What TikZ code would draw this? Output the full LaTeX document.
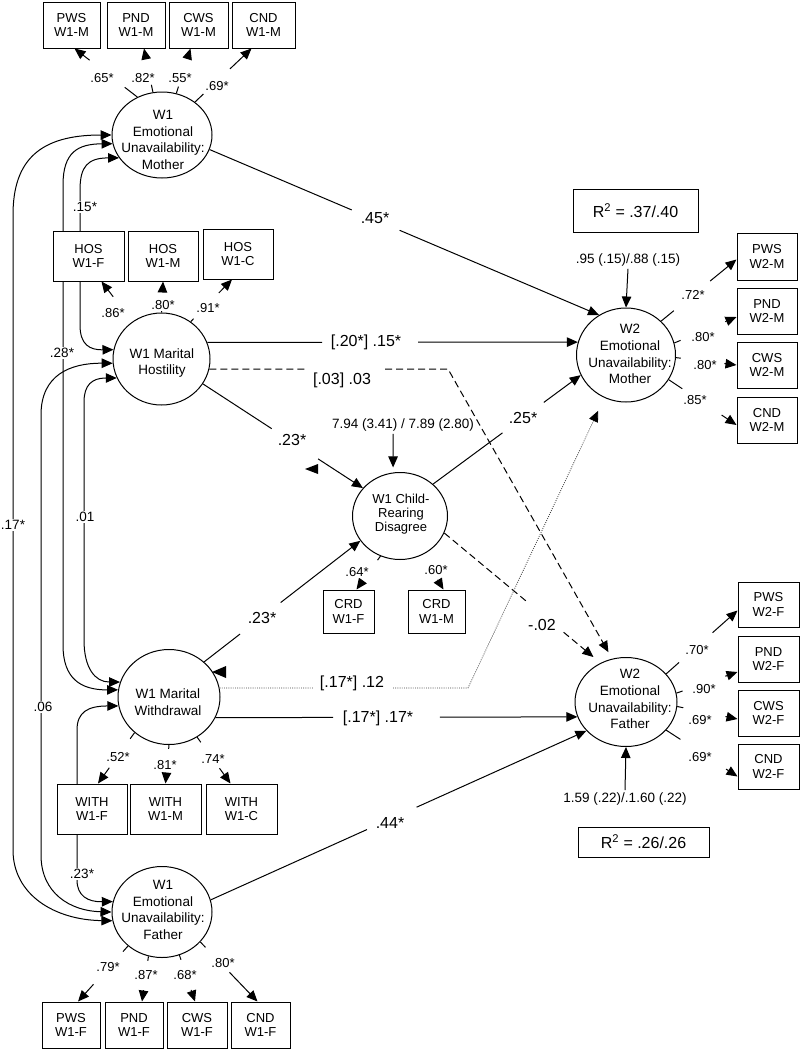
\documentclass[tikz,border=0pt]{standalone}
\usepackage{fontspec}
\setmainfont{Liberation Sans}
\usetikzlibrary{shapes.geometric,arrows.meta,calc,backgrounds}
\newcommand\gapln[5][]{%
  \draw[#1] (#2) -- ($(#2)!#4!(#3)$);
  \draw[#1,arr] ($(#2)!#5!(#3)$) -- (#3);}
\begin{document}
\begin{tikzpicture}[x=1pt,y=-1pt,line width=1pt,
  arr/.style={-{Triangle[length=11pt,width=9.5pt]}},
  dotarr/.style={-{Triangle[length=11pt,width=9.5pt,black]}},
  arrb/.style={{Triangle[length=11pt,width=9.5pt]}-{Triangle[length=11pt,width=9.5pt]}},
  lat/.style={ellipse,draw,fill=white,inner sep=0pt},
  ltxt/.style={inner sep=0pt,align=center,font=\fontsize{13.5}{16.8}\selectfont},
  obs/.style={rectangle,draw,fill=white,inner sep=0pt,align=center,font=\fontsize{13}{14.5}\selectfont},
  ld/.style={fill=white,inner sep=1.2pt,font=\fontsize{13}{15}\selectfont},
  pl/.style={fill=white,inner sep=1.5pt,font=\fontsize{16}{18}\selectfont},
  cl/.style={fill=white,inner sep=1.5pt,font=\fontsize{13.5}{15}\selectfont},
  dtxt/.style={inner sep=2pt,font=\fontsize{13.5}{15}\selectfont},
  dsh/.style={dash pattern=on 7pt off 4pt},
  dot/.style={line width=.8pt,black!75,dash pattern=on .9pt off 1.3pt}]
\useasboundingbox (0,0) rectangle (801,1050);

% latent variables
\node[lat,minimum width=100pt,minimum height=86pt] (mw) at (162,135) {};
\node[lat,minimum width=97pt,minimum height=92pt] (hos) at (161.5,359) {};
\node[lat,minimum width=102pt,minimum height=95pt] (wd) at (169,697) {};
\node[lat,minimum width=100pt,minimum height=91pt] (fw) at (162,912) {};
\node[lat,minimum width=95pt,minimum height=87pt] (crd) at (400,516) {};
\node[lat,minimum width=99pt,minimum height=94pt] (w2m) at (626,355) {};
\node[lat,minimum width=102pt,minimum height=89pt] (w2f) at (626,702) {};

\node[ltxt] (mwt) at (163,140) {W1\\Emotional\\Unavailability:\\Mother};
\node[ltxt] (host) at (162,363) {W1 Marital\\Hostility};
\node[ltxt] (wdt) at (168,702) {W1 Marital\\Withdrawal};
\node[ltxt] (fwt) at (163,910) {W1\\Emotional\\Unavailability:\\Father};
\node[ltxt,font=\fontsize{13}{14.2}\selectfont] (crdt) at (401,514) {W1 Child-\\Rearing\\Disagree};
\node[ltxt] (w2mt) at (630,354) {W2\\Emotional\\Unavailability:\\Mother};
\node[ltxt] (w2ft) at (630,699) {W2\\Emotional\\Unavailability:\\Father};

% observed indicators
\node[obs,minimum width=57pt,minimum height=46pt] (pwsm) at (71.5,25) {PWS\\W1-M};
\node[obs,minimum width=58pt,minimum height=46pt] (pndm) at (136,25) {PND\\W1-M};
\node[obs,minimum width=59pt,minimum height=46pt] (cwsm) at (198.5,25) {CWS\\W1-M};
\node[obs,minimum width=63pt,minimum height=46pt] (cndm) at (263.5,25) {CND\\W1-M};

\node[obs,minimum width=71pt,minimum height=50pt] (hosf) at (88.5,256) {HOS\\W1-F};
\node[obs,minimum width=70pt,minimum height=50pt] (hosm) at (163,256) {HOS\\W1-M};
\node[obs,minimum width=70pt,minimum height=50pt] (hosc) at (238,254) {HOS\\W1-C};

\node[obs,minimum width=70pt,minimum height=50pt] (withf) at (92,809) {WITH\\W1-F};
\node[obs,minimum width=71pt,minimum height=50pt] (withm) at (165.5,809) {WITH\\W1-M};
\node[obs,minimum width=71pt,minimum height=50pt] (withc) at (241.5,809) {WITH\\W1-C};

\node[obs,minimum width=58pt,minimum height=46pt] (pwsf) at (71,1025) {PWS\\W1-F};
\node[obs,minimum width=58pt,minimum height=46pt] (pndf) at (134,1025) {PND\\W1-F};
\node[obs,minimum width=60pt,minimum height=46pt] (cwsf) at (197,1025) {CWS\\W1-F};
\node[obs,minimum width=59pt,minimum height=46pt] (cndf) at (260.5,1025) {CND\\W1-F};

\node[obs,minimum width=51pt,minimum height=43pt] (crdf) at (348.5,611.5) {CRD\\W1-F};
\node[obs,minimum width=57pt,minimum height=43pt] (crdm) at (436.5,611.5) {CRD\\W1-M};

\node[obs,minimum width=60pt,minimum height=47pt] (pws2m) at (767,256.5) {PWS\\W2-M};
\node[obs,minimum width=60pt,minimum height=46pt] (pnd2m) at (767,311) {PND\\W2-M};
\node[obs,minimum width=60pt,minimum height=46pt] (cws2m) at (767,365) {CWS\\W2-M};
\node[obs,minimum width=60pt,minimum height=46pt] (cnd2m) at (767,420) {CND\\W2-M};

\node[obs,minimum width=61pt,minimum height=45pt] (pws2f) at (768.5,604.5) {PWS\\W2-F};
\node[obs,minimum width=61pt,minimum height=46pt] (pnd2f) at (768.5,659) {PND\\W2-F};
\node[obs,minimum width=61pt,minimum height=46pt] (cws2f) at (768.5,713) {CWS\\W2-F};
\node[obs,minimum width=61pt,minimum height=45pt] (cnd2f) at (768.5,766.5) {CND\\W2-F};

\node[obs,font=\fontsize{16}{18}\selectfont,minimum width=125pt,minimum height=43pt] (r2m) at (635.5,210.5) {R\textsuperscript{2} = .37/.40};
\node[obs,font=\fontsize{16}{18}\selectfont,minimum width=131pt,minimum height=30pt] (r2f) at (643.5,842) {R\textsuperscript{2} = .26/.26};

% disturbance texts
\node[dtxt] (d2m) at (628,260) {.95 (.15)/.88 (.15)};
\node[dtxt] (d2f) at (625,799) {1.59 (.22)/.1.60 (.22)};
\node[dtxt] (dcrd) at (403,425) {7.94 (3.41) / 7.89 (2.80)};

\coordinate (da) at (305,369);
\coordinate (db) at (385,369);
\coordinate (dc) at (448,369);
\coordinate (ta) at (313,688);
\coordinate (tb) at (393,688);
\coordinate (tc) at (468,688);

\begin{pgfonlayer}{background}
\begin{scope}[line width=1pt,black]
% correlations
\draw[arrb] (mw.180) .. controls (40,135) and (13,160) .. (13,215) -- (13,850) .. controls (13,895) and (55,920) .. (fw.190);
\draw[arrb] (mw.190) .. controls (78,144) and (63,152) .. (63,185) -- (63,645) .. controls (63,678) and (80,690) .. (wd.172);
\draw[arrb] (mw.208) .. controls (88,158) and (80,166) .. (80,190) -- (80,325) .. controls (80,345) and (90,350) .. (hos.169);
\draw[arrb] (hos.185) .. controls (70,363) and (41,375) .. (41,415) -- (41,855) .. controls (41,893) and (70,911) .. (fw.180);
\draw[arrb] (hos.203) .. controls (92,378) and (84,385) .. (84,402) -- (84,640) .. controls (84,668) and (95,682) .. (wd.163);
\draw[arrb] (wd.190) .. controls (88,706) and (77,712) .. (77,730) -- (77,880) .. controls (77,896) and (88,902) .. (fw.168);

% loadings
\gapln{mw.123}{[xshift=3pt]pwsm.south}{.2}{.76}
\gapln{mw.102}{[xshift=8pt]pndm.south}{.17}{.78}
\gapln{mw.71}{[xshift=-8pt]cwsm.south}{.15}{.78}
\gapln{mw.45}{[xshift=-12pt]cndm.south}{.15}{.62}
\gapln{hos.128}{[xshift=13pt]hosf.south}{0}{.62}
\gapln{hos.90}{hosm.south}{.1}{.75}
\gapln{hos.52}{[xshift=-6pt]hosc.south}{.07}{.68}
\gapln{wd.226}{[xshift=6pt]withf.north}{.12}{.69}
\gapln{wd.270}{withm.north}{.1}{.78}
\gapln{wd.305}{[xshift=-11pt]withc.north}{.11}{.67}
\gapln{fw.225}{[xshift=7pt]pwsf.north}{.1}{.69}
\gapln{fw.253}{[xshift=8pt]pndf.north}{.1}{.75}
\gapln{fw.292}{[xshift=-2pt]cwsf.north}{.1}{.75}
\gapln{fw.322}{[xshift=-3pt]cndf.north}{.09}{.51}
\gapln{crd.244}{[xshift=8pt]crdf.north}{.12}{.75}
\gapln{crd.300}{[xshift=7pt]crdm.north}{0}{.72}
\gapln{w2m.44}{[yshift=-3pt]pws2m.west}{.17}{.65}
\gapln{w2m.14}{[yshift=-6pt]pnd2m.west}{.1}{.82}
\gapln{w2m.357}{cws2m.west}{.08}{.8}
\gapln{w2m.330}{[yshift=-5pt]cnd2m.west}{.2}{.78}
\gapln{w2f.35}{[yshift=-6pt]pws2f.west}{.18}{.65}
\gapln{w2f.10}{[yshift=-13pt]pnd2f.west}{.1}{.8}
\gapln{w2f.355}{[yshift=-6pt]cws2f.west}{.1}{.8}
\gapln{w2f.325}{[yshift=-10pt]cnd2f.west}{.2}{.84}

% structural paths
\gapln{mw.343}{w2m.124}{.365}{.488}
\gapln{hos.20}{w2m.165}{.31}{.569}
\gapln{hos.329}{crd.143}{.43}{.72}
\gapln{wd.45}{crd.212}{.23}{.49}
\gapln{crd.44}{w2m.204}{.47}{.75}
\gapln[dsh]{crd.339}{[xshift=-5pt,yshift=7pt]w2f.126}{.55}{.80}
\gapln{wd.336}{w2f.197}{.325}{.62}
\gapln{fw.14}{w2f.216}{.416}{.548}
\draw[dsh] (hos.348) -- (da);
\draw[dsh,arr] (db) -- (dc) -- ([xshift=-2pt,yshift=7pt]w2f.110);
\draw[dot] (wd.10) -- (ta);
\draw[dot,dotarr] (tb) -- (tc) -- ([xshift=-6pt,yshift=-13pt]w2m.243);

% disturbances
\draw[arr] (d2m.south) -- (w2m.north);
\draw[arr] (d2f.north) -- (w2f.south);
\draw[arr,shorten >=5pt] ([xshift=-10pt]dcrd.south) -- (crd.99);

% stray arrowheads
\fill (305,469) -- (318,464) -- (318,474) -- cycle;
\fill (212,672) -- (226,666) -- (226,678) -- cycle;
\end{scope}
\end{pgfonlayer}

% loading labels
\node[ld] (l1) at (102,78) {.65*};
\node[ld] (l2) at (143,78) {.82*};
\node[ld] (l3) at (180,78) {.55*};
\node[ld] (l4) at (217,86) {.69*};
\node[ld] (l5) at (113,313) {.86*};
\node[ld] (l6) at (163,305) {.80*};
\node[ld] (l7) at (208,308) {.91*};
\node[ld] (l8) at (118,757) {.52*};
\node[ld] (l9) at (165,765) {.81*};
\node[ld] (l10) at (213,759) {.74*};
\node[ld] (l11) at (108,967) {.79*};
\node[ld] (l12) at (146,975) {.87*};
\node[ld] (l13) at (185,975) {.68*};
\node[ld] (l14) at (223,963) {.80*};
\node[ld] (l15) at (357,572) {.64*};
\node[ld] (l16) at (436,570) {.60*};
\node[ld] (l17) at (693,295) {.72*};
\node[ld] (l18) at (703,337) {.80*};
\node[ld] (l19) at (705,365) {.80*};
\node[ld] (l20) at (695,400) {.85*};
\node[ld] (l21) at (697,650) {.70*};
\node[ld] (l22) at (704,689) {.90*};
\node[ld] (l23) at (700,720) {.69*};
\node[ld] (l24) at (700,757) {.69*};

% path labels
\node[pl] (p1) at (375,218) {.45*};
\node[pl] (p2) at (366,342) {[.20*] .15*};
\node[pl] (p3) at (342,380) {[.03] .03};
\node[pl] (p4) at (292,440) {.23*};
\node[pl] (p5) at (262,618) {.23*};
\node[pl] (p6) at (523,418) {.25*};
\node[pl] (p7) at (542,625) {-.02};
\node[pl] (p8) at (352,683) {[.17*] .12};
\node[pl] (p9) at (378,718) {[.17*] .17*};
\node[pl] (p10) at (390,823) {.44*};

% correlation labels
\node[cl] (c1) at (85,207) {.15*};
\node[cl] (c2) at (62,353) {.28*};
\node[cl] (c3) at (13,525) {.17*};
\node[cl] (c4) at (85,517) {.01};
\node[cl] (c5) at (43,707) {.06};
\node[cl] (c6) at (82,874) {.23*};
\end{tikzpicture}
\end{document}
